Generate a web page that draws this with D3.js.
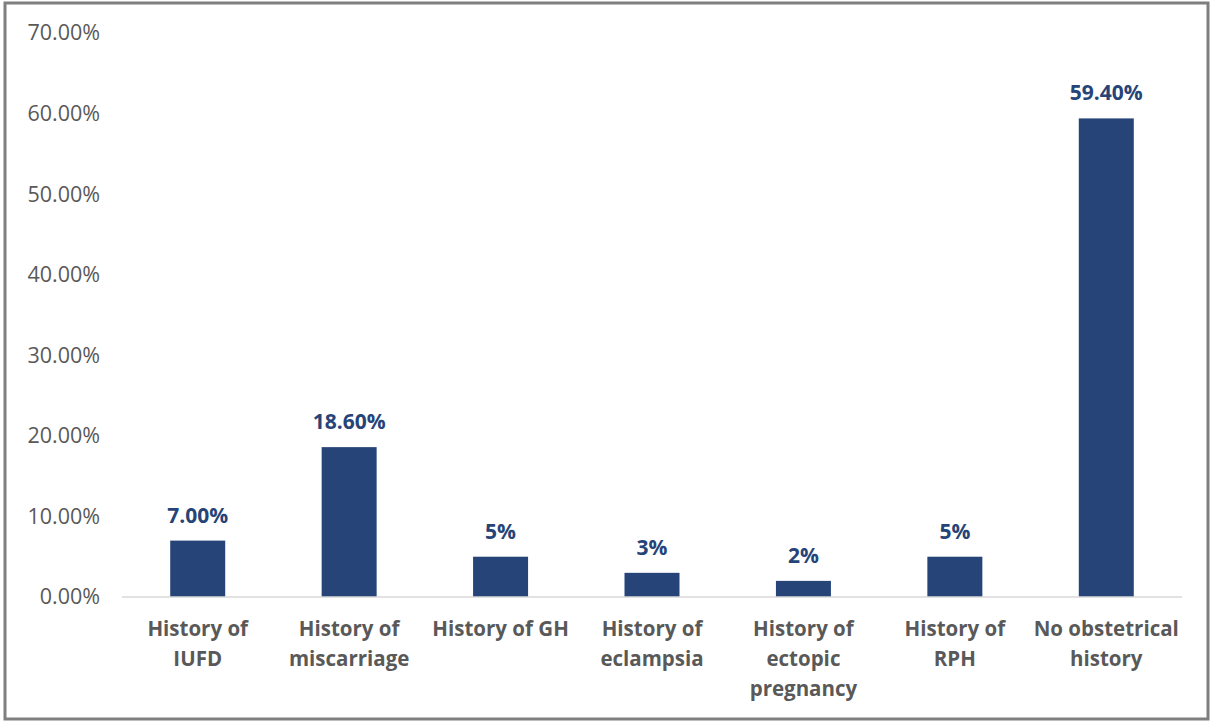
<!DOCTYPE html>
<meta charset="utf-8">
<style>
  body { margin: 0; background: #fff; }
  svg text { font-family: "Open Sans", "Liberation Sans", sans-serif; }
</style>
<script src="https://cdn.jsdelivr.net/npm/d3@7"></script>
<div id="chart"></div>
<script>
// categories (multi-line labels) and values in percent
var categories = [
  ["History of", "IUFD"],
  ["History of", "miscarriage"],
  ["History of GH"],
  ["History of", "eclampsia"],
  ["History of", "ectopic", "pregnancy"],
  ["History of", "RPH"],
  ["No obstetrical", "history"]
];
var values = [7.0, 18.6, 5, 3, 2, 5, 59.4];
var valueLabels = ["7.00%", "18.60%", "5%", "3%", "2%", "5%", "59.40%"];
var yTicks = [0, 10, 20, 30, 40, 50, 60, 70];

var W = 1211, H = 722;
var margin = {top: 33, right: 29, bottom: 125, left: 122};
var width = W - margin.left - margin.right,
    height = H - margin.top - margin.bottom;

var svg = d3.select("#chart").append("svg")
  .attr("width", W).attr("height", H);

// outer frame
svg.append("rect")
  .attr("x", 5).attr("y", 3)
  .attr("width", 1203).attr("height", 716)
  .attr("fill", "none").attr("stroke", "#7f7f7f").attr("stroke-width", 3);

var g = svg.append("g").attr("transform", "translate(" + margin.left + "," + margin.top + ")");

var x = d3.scaleBand().domain(d3.range(categories.length)).range([0, width]).padding(0);
var y = d3.scaleLinear().domain([0, 70]).range([height, 0]);
var barW = 55;

// y axis labels
g.append("g")
  .call(d3.axisLeft(y).tickValues(yTicks).tickSize(0).tickPadding(22)
    .tickFormat(function(d) { return d.toFixed(2) + "%"; }))
  .call(function(a) { a.select(".domain").remove(); })
  .selectAll("text")
    .attr("fill", "#595959")
    .style("font-size", "21.5px");

// bars
g.selectAll(".bar").data(values).enter().append("rect")
  .attr("x", function(d, i) { return x(i) + x.bandwidth() / 2 - barW / 2; })
  .attr("y", function(d) { return y(d); })
  .attr("width", barW)
  .attr("height", function(d) { return height - y(d); })
  .attr("fill", "#264478");

// baseline
g.append("line")
  .attr("x1", 0).attr("x2", width)
  .attr("y1", y(0)).attr("y2", y(0))
  .attr("stroke", "#d9d9d9").attr("stroke-width", 1.5);

// value labels
g.selectAll(".val").data(values).enter().append("text")
  .attr("x", function(d, i) { return x(i) + x.bandwidth() / 2; })
  .attr("y", function(d) { return y(d) - 18; })
  .attr("text-anchor", "middle")
  .attr("fill", "#264478")
  .style("font-size", "21px")
  .style("font-weight", "bold")
  .text(function(d, i) { return valueLabels[i]; });

// category labels
var cat = g.selectAll(".cat").data(categories).enter().append("text")
  .attr("text-anchor", "middle")
  .attr("fill", "#595959")
  .style("font-size", "20.5px")
  .style("font-weight", "bold");
cat.selectAll("tspan").data(function(d, i) { return d.map(function(s) { return {s: s, i: i}; }); })
  .enter().append("tspan")
  .attr("x", function(d) { return x(d.i) + x.bandwidth() / 2; })
  .attr("y", function(d, j) { return height + 39 + j * 30; })
  .text(function(d) { return d.s; });
</script>
